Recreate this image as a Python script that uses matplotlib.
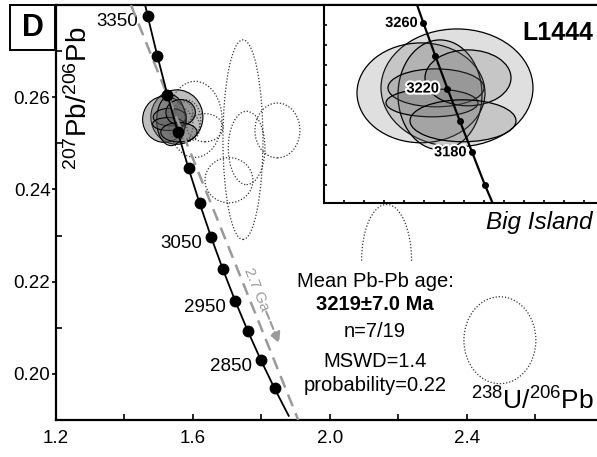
import matplotlib
matplotlib.use('Agg')
import matplotlib.pyplot as plt
import matplotlib.patheffects as pe
from matplotlib.patches import Ellipse, Rectangle
from matplotlib.ticker import MultipleLocator, FixedLocator, FormatStrFormatter

plt.rcParams['font.family'] = ['Liberation Sans', 'DejaVu Sans']
plt.rcParams['mathtext.fontset'] = 'custom'
plt.rcParams['mathtext.rm'] = 'Liberation Sans'
plt.rcParams['mathtext.it'] = 'Liberation Sans:italic'
plt.rcParams['mathtext.bf'] = 'Liberation Sans:bold'

# --- concordia (Tera-Wasserburg), age in Ma ---
conc_age = [3400, 3350, 3300, 3250, 3200, 3150, 3100, 3050, 3000, 2950, 2900, 2850, 2800, 2750]
conc_x = [1.43975, 1.46742, 1.49593, 1.52533, 1.55570, 1.58704, 1.61940, 1.65286,
          1.68744, 1.72323, 1.76025, 1.79863, 1.83838, 1.87959]
conc_y = [0.28674, 0.27770, 0.26896, 0.26054, 0.25242, 0.24458, 0.23701, 0.22971,
          0.22266, 0.21585, 0.20928, 0.20294, 0.19683, 0.19091]
dot_ages = [3350, 3300, 3250, 3200, 3150, 3100, 3050, 3000, 2950, 2900, 2850, 2800]
label_ages = [3350, 3050, 2950, 2850]

# inset concordia
ins_age = [3280, 3260, 3240, 3220, 3200, 3180, 3160, 3140]
ins_x = [1.50759, 1.51939, 1.53134, 1.54344, 1.55570, 1.56812, 1.58069, 1.59343]
ins_y = [0.26557, 0.26220, 0.25890, 0.25563, 0.25242, 0.24925, 0.24602, 0.24304]
ins_dot_ages = [3260, 3240, 3220, 3200, 3180, 3160]
ins_label_ages = [3260, 3220, 3180]

# accepted analyses (2 sigma ellipses): centre x, centre y, width, height
acc_cx = [1.553, 1.517, 1.536, 1.532, 1.528, 1.564, 1.559]
acc_cy = [0.2557, 0.2552, 0.2550, 0.2557, 0.2542, 0.2567, 0.2524]
acc_w = [0.152, 0.128, 0.084, 0.096, 0.092, 0.086, 0.106]
acc_h = [0.0118, 0.0100, 0.0110, 0.0038, 0.0028, 0.0056, 0.0042]

# rejected analyses (dotted)
rej_cx = [1.746, 1.8467, 1.7567, 1.7051, 1.606, 1.635, 2.1655, 2.4964, 1.565, 1.58, 1.59, 1.575]
rej_cy = [0.2508, 0.2528, 0.2490, 0.2420, 0.2552, 0.2534, 0.2246, 0.2073, 0.2540, 0.2552, 0.2535, 0.2565]
rej_w = [0.1168, 0.1314, 0.107, 0.140, 0.158, 0.105, 0.146, 0.2102, 0.07, 0.085, 0.06, 0.05]
rej_h = [0.0433, 0.0119, 0.0159, 0.0098, 0.0165, 0.0061, 0.0243, 0.01885, 0.0075, 0.0085, 0.006, 0.005]

# 2.7 Ga reference line and direction arrow
ref_x = [1.419, 1.9075]
ref_y = [0.28, 0.19]
arrow_from = (1.814, 0.2135)
arrow_to = (1.852, 0.2066)

x_ticks = [1.2, 1.6, 2.0, 2.4]
y_ticks = [0.20, 0.22, 0.24, 0.26]

stats_lines = ['Mean Pb-Pb age:', '3219\u00b17.0 Ma', 'n=7/19', 'MSWD=1.4', 'probability=0.22']
stats_bold = [False, True, False, False, False]

grey = '#9a9a9a'

fig = plt.figure(figsize=(5.97, 4.57), dpi=100)
ax = fig.add_axes([0.0938, 0.081, 0.9062, 0.908])

for cx, cy, w, h in zip(rej_cx, rej_cy, rej_w, rej_h):
    ax.add_patch(Ellipse((cx, cy), w, h, fill=False, ec='#333333', ls=(0, (1, 1.5)),
                         lw=0.9, zorder=2))
for cx, cy, w, h in zip(acc_cx, acc_cy, acc_w, acc_h):
    ax.add_patch(Ellipse((cx, cy), w, h, fc='#646464', alpha=0.42, ec='none', zorder=3))
    ax.add_patch(Ellipse((cx, cy), w, h, fill=False, ec='black', lw=0.8, zorder=3))

ax.plot(ref_x, ref_y, color=grey, lw=1.8, ls=(0, (5, 3)), zorder=3.5)
ax.plot(conc_x, conc_y, color='black', lw=1.3, zorder=4)
dx = [conc_x[conc_age.index(a)] for a in dot_ages]
dy = [conc_y[conc_age.index(a)] for a in dot_ages]
ax.plot(dx, dy, 'o', color='black', ms=7.5, zorder=5)
for a in label_ages:
    i = conc_age.index(a)
    ax.annotate(str(a), (conc_x[i], conc_y[i]), xytext=(-6.5, -4.5), textcoords='offset points',
                ha='right', va='center', fontsize=13.5)

ax.annotate('', xy=arrow_to, xytext=arrow_from,
            arrowprops=dict(arrowstyle='-|>', color=grey, lw=1.5, ls='--',
                            mutation_scale=16, shrinkA=0, shrinkB=0), zorder=3.5)
ax.text(1.786, 0.2183, '2.7 Ga', color=grey, fontsize=11, rotation=-67.7,
        rotation_mode='anchor', ha='center', va='center')

# white panel behind the statistics
ax.add_patch(Rectangle((0.4325, 0.058), 0.314, 0.323, transform=ax.transAxes,
                       fc='white', ec='none', zorder=3.6))
stats_y = [0.3333, 0.2771, 0.2128, 0.1405, 0.0843]
for s, yy, b in zip(stats_lines, stats_y, stats_bold):
    ax.text(0.5896, yy, s, transform=ax.transAxes, ha='center', va='center', fontsize=14.5,
            fontweight='bold' if b else 'normal', zorder=6)

ax.text(0.9926, 0.477, 'Big Island', transform=ax.transAxes, ha='right', va='center',
        fontsize=17.5, style='italic')
ax.text(0.995, 0.025, r'$^{238}\mathrm{U}/^{206}\mathrm{Pb}$', transform=ax.transAxes,
        ha='right', va='baseline', fontsize=19)
ax.text(0.043, 0.774, r'$^{207}\mathrm{Pb}/^{206}\mathrm{Pb}$', transform=ax.transAxes,
        ha='center', va='center', fontsize=20, rotation=90)

ax.set_xlim(1.2, 2.78)
ax.set_ylim(0.19, 0.28)
ax.xaxis.set_major_locator(FixedLocator(x_ticks))
ax.xaxis.set_minor_locator(MultipleLocator(0.2))
ax.yaxis.set_major_locator(FixedLocator(y_ticks))
ax.yaxis.set_minor_locator(MultipleLocator(0.01))
ax.xaxis.set_major_formatter(FormatStrFormatter('%.1f'))
ax.yaxis.set_major_formatter(FormatStrFormatter('%.2f'))
ax.tick_params(axis='x', which='both', direction='in', length=4, width=1.2, labelsize=13.5, pad=7)
ax.tick_params(axis='y', which='major', direction='out', length=3, width=1.2, labelsize=13.5, pad=1)
ax.tick_params(axis='y', which='minor', direction='in', length=4, width=1.2)
ax.spines['right'].set_visible(False)
for s in ['left', 'bottom', 'top']:
    ax.spines[s].set_linewidth(1.6)

# panel letter box
fig.patches.append(Rectangle((10 / 597, 1 - 50 / 457), 45 / 597, 45 / 457, transform=fig.transFigure,
                             fc='white', ec='black', lw=1.4))
fig.text(33 / 597, 1 - 28 / 457, 'D', ha='center', va='center', fontsize=22, fontweight='bold')

# --- inset ---
axi = fig.add_axes([0.5427, 0.5565, 0.4573, 0.4326])
axi.set_facecolor('white')
for cx, cy, w, h in zip(acc_cx, acc_cy, acc_w, acc_h):
    axi.add_patch(Ellipse((cx, cy), w, h, fc='#707070', alpha=0.22, ec='none', zorder=2))
    axi.add_patch(Ellipse((cx, cy), w, h, fill=False, ec='black', lw=0.9, zorder=2))
axi.plot(ins_x, ins_y, color='black', lw=1.6, zorder=4)
ix = [ins_x[ins_age.index(a)] for a in ins_dot_ages]
iy = [ins_y[ins_age.index(a)] for a in ins_dot_ages]
axi.plot(ix, iy, 'o', color='black', ms=4, zorder=5)
ins_off = {3260: -4, 3220: -6, 3180: -4}
for a in ins_label_ages:
    i = ins_age.index(a)
    axi.annotate(str(a), (ins_x[i], ins_y[i]), xytext=(ins_off[a], 0), textcoords='offset points',
                 ha='right', va='center', fontsize=10.5, fontweight='bold', zorder=6,
                 path_effects=[pe.withStroke(linewidth=3, foreground='white')])
axi.text(0.985, 0.858, 'L1444', transform=axi.transAxes, ha='right', va='center',
         fontsize=18, fontweight='bold')
axi.set_xlim(1.42, 1.693)
axi.set_ylim(0.2442, 0.264)
axi.xaxis.set_major_locator(MultipleLocator(0.02))
axi.yaxis.set_major_locator(MultipleLocator(0.002))
axi.tick_params(which='both', direction='in', length=2.5, width=1.2,
                labelbottom=False, labelleft=False)
axi.spines['right'].set_visible(False)
for s in ['left', 'bottom', 'top']:
    axi.spines[s].set_linewidth(1.5)

fig.savefig('out.png', dpi=100)
